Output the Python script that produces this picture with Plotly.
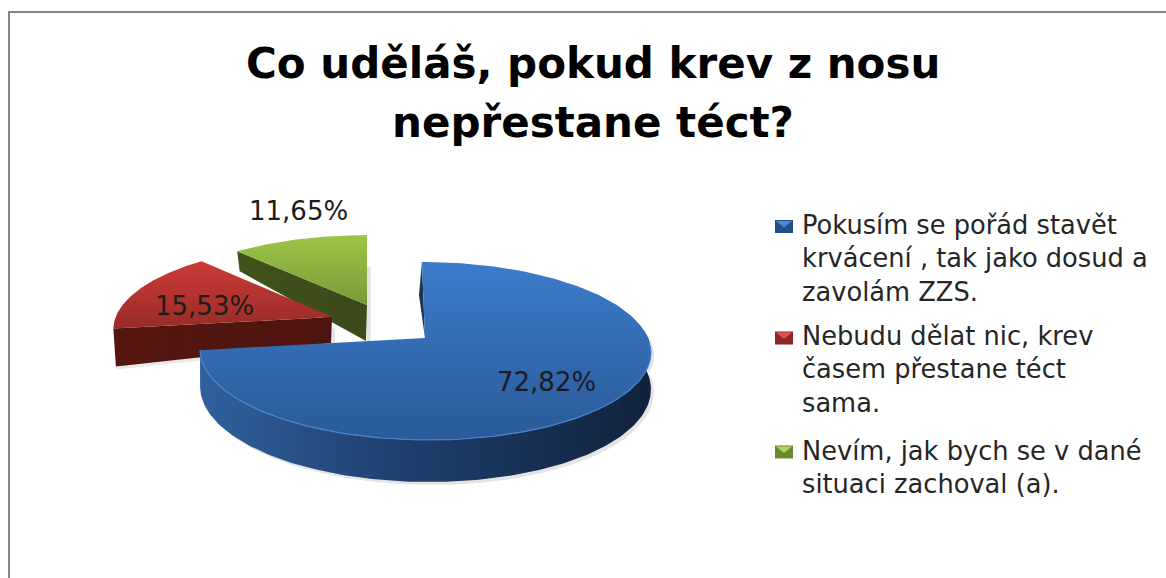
import numpy as np
import plotly.graph_objects as go

# ---- data ----
title_lines = ["Co uděláš, pokud krev z nosu", "nepřestane téct?"]
categories = [
    "Pokusím se pořád stavět<br>krvácení , tak jako dosud a<br>zavolám ZZS.",
    "Nebudu dělat nic, krev<br>časem přestane téct<br>sama.",
    "Nevím, jak bych se v dané<br>situaci zachoval (a).",
]
values = [72.82, 15.53, 11.65]

# ---- styling / layout (pixel space) ----
apex = [(425, 338), (332, 317), (367, 305)]
scale_x = [1.0, 0.97, 0.966]
scale_y = [1.0, 0.955, 0.92]
shear = [0.04, 0.0, 0.0]
top_grad = [("#3B7CCB", "#2A5A98"), ("#CC3B37", "#992B27"), ("#9DC548", "#779A37")]
side_col = [("#2F619E", "#11223B"), ("#55160F", "#4E1410"), ("#41521C", "#3C4A1A")]
depth_apex = [36, 26, 36]
depth_rim = [38, 38, 20]
label_pos = [(546, 382), (204, 306), (298, 211)]
legend_dark = ["#24508A", "#8E2825", "#6A8A2E"]
legend_light = ["#4A8AD6", "#DC5652", "#B0D45E"]
legend_text_y = [258, 369.5, 467]
legend_swatch_y = [226.5, 338, 452]
R, K, P = 223.0, 87.1, 0.146
TEXT = "DejaVu Sans"


def project(theta_deg, slice_i):
    """Clockwise-from-12 o'clock angle to a perspective pixel position."""
    t = np.radians(theta_deg)
    X, Y = np.sin(t), -np.cos(t)
    w = 1 - P * Y
    px = X * R / w
    py = K * Y / w
    ax, ay = apex[slice_i]
    return ax + scale_x[slice_i] * (px + shear[slice_i] * py), ay + scale_y[slice_i] * py, Y


fig = go.Figure()
bounds = np.concatenate([[0], np.cumsum(values)]) * 3.6
order = [2, 1, 0]  # far slices first


def poly(x, y, **kw):
    fig.add_trace(go.Scatter(x=list(x), y=list(y), mode="lines", fill="toself",
                             hoverinfo="skip", showlegend=False,
                             line=kw.pop("line", dict(width=0)), **kw))


for i in order:
    a0, a1 = bounds[i], bounds[i + 1]
    th = np.linspace(a0, a1, 160)
    x, y, Y = project(th, i)
    ax, ay = apex[i]

    if i == 0:
        th_w = np.linspace(85, a1, 160)
        wx, wy, wY = project(th_w, i)
        d = 36 + 6 * wY
        poly(np.r_[wx + 3, (wx + 3)[::-1]], np.r_[wy + 3, (wy + d + 3)[::-1]],
             fillcolor="rgba(90,90,90,0.16)")
        poly([x[0], x[0] - 3, ax], [y[0], y[0] + 33, ay], fillcolor="#1D3557")
        poly(np.r_[wx, wx[::-1]], np.r_[wy, (wy + d)[::-1]],
             fillcolor="#1F4272",
             fillgradient=dict(type="horizontal",
                               colorscale=[[0, side_col[0][0]], [0.45, "#1F3F6E"],
                                           [1, side_col[0][1]]]))
    else:
        xr, yr = x[0], y[0]
        if i == 2:
            poly([ax, ax + 3.5, ax + 3.5, ax], [ay - 38, ay - 38, ay + depth_apex[i], ay + depth_apex[i]],
                 fillcolor="rgba(90,90,90,0.18)")
        else:
            poly([xr + 3, ax + 3, ax + 3, xr + 3],
                 [yr + depth_rim[i] - 8, ay + 10, ay + depth_apex[i] + 3, yr + depth_rim[i] + 3],
                 fillcolor="rgba(90,90,90,0.14)")
        poly([xr, ax, ax - 1, xr + 2.5],
             [yr, ay, ay + depth_apex[i], yr + depth_rim[i]],
             fillcolor=side_col[i][0],
             fillgradient=dict(type="horizontal",
                               colorscale=[[0, side_col[i][0]], [1, side_col[i][1]]]))

    poly(np.r_[ax, x, ax], np.r_[ay, y, ay],
         fillcolor=top_grad[i][0],
         fillgradient=dict(type="vertical",
                           colorscale=[[0, top_grad[i][1]], [1, top_grad[i][0]]]))
    if i == 0:
        th_r = np.linspace(95, a1, 120)
        rx, ry, _ = project(th_r, i)
        fig.add_trace(go.Scatter(x=rx, y=ry, mode="lines", hoverinfo="skip", showlegend=False,
                                 line=dict(color="#4A86CE", width=1.2)))

# legend swatches: dark square with a lighter envelope-style triangle
SW_X0, SW_X1, SW_H = 775.0, 793.0, 13.0
for i, sy in enumerate(legend_swatch_y):
    y0, y1 = sy - SW_H / 2, sy + SW_H / 2
    poly([SW_X0, SW_X1, SW_X1, SW_X0], [y0, y0, y1, y1], fillcolor=legend_dark[i])
    poly([SW_X0 + 1, SW_X1 - 1, (SW_X0 + SW_X1) / 2], [y0 + 1, y0 + 1, sy + 1],
         fillcolor=legend_light[i])

annotations = []
for i, v in enumerate(values):
    annotations.append(dict(x=label_pos[i][0], y=label_pos[i][1], xref="x", yref="y",
                            text=f"{v:.2f}".replace(".", ",") + "%", showarrow=False,
                            font=dict(family=TEXT, size=26, color="#1c1c1c")))
for cat, ypos in zip(categories, legend_text_y):
    annotations.append(dict(x=800, y=ypos, xref="x", yref="y", text=cat, showarrow=False,
                            xanchor="left", yanchor="middle", align="left",
                            font=dict(family=TEXT, size=25.7, color="#262626")))
for line, ypos in zip(title_lines, [63, 122]):
    annotations.append(dict(x=593, y=ypos, xref="x", yref="y", text=f"<b>{line}</b>",
                            showarrow=False,
                            font=dict(family=TEXT, size=42, color="#000000")))

fig.update_layout(
    width=1166, height=578, margin=dict(l=0, r=0, t=0, b=0),
    paper_bgcolor="white", plot_bgcolor="white", showlegend=False,
    xaxis=dict(range=[0, 1166], visible=False, fixedrange=True),
    yaxis=dict(range=[578, 0], visible=False, fixedrange=True),
    annotations=annotations,
    shapes=[dict(type="path", xref="x", yref="y", path="M 9 578 L 9 12 L 1166 12",
                 line=dict(color="#868686", width=2))],
)

fig.write_html("out.html", config=dict(displayModeBar=False),
               post_script="document.body.style.margin='0';")
